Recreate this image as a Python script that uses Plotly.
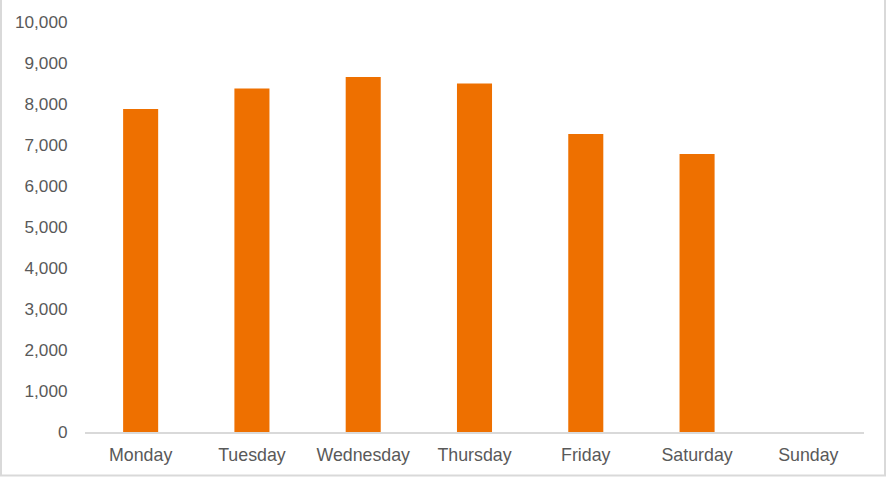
import plotly.graph_objects as go

days = ["Monday", "Tuesday", "Wednesday", "Thursday", "Friday", "Saturday", "Sunday"]
values = [7880, 8380, 8660, 8500, 7270, 6780, 0]
y_ticks = [0, 1000, 2000, 3000, 4000, 5000, 6000, 7000, 8000, 9000, 10000]
y_tick_labels = ["0", "1,000", "2,000", "3,000", "4,000", "5,000", "6,000", "7,000", "8,000", "9,000", "10,000"]

W, H = 886, 477
L, R, T, B = 85, 22, 22, 45
pw = W - L - R
ph = H - T - B

fig = go.Figure(go.Bar(
    x=days, y=values,
    marker=dict(color="#EE7000", line=dict(width=0)),
    hoverinfo="skip",
))

fig.update_layout(
    width=W, height=H,
    margin=dict(l=L, r=R, t=T, b=B),
    paper_bgcolor="white", plot_bgcolor="white",
    bargap=0.685,
    showlegend=False,
    font=dict(family="Liberation Sans, Arial, sans-serif", color="#595959", size=17.8),
    xaxis=dict(
        showline=True, linecolor="#D9D9D9", linewidth=1.5,
        showgrid=False, ticks="outside", ticklen=6, tickcolor="rgba(0,0,0,0)",
        tickfont=dict(size=17.8, color="#595959"),
    ),
    yaxis=dict(
        range=[0, 10000], tickvals=y_ticks, ticktext=y_tick_labels,
        showgrid=False, zeroline=False, showline=False,
        ticks="outside", ticklen=13, tickcolor="rgba(0,0,0,0)",
        tickfont=dict(size=17.2, color="#595959"),
    ),
    shapes=[dict(
        type="rect", xref="paper", yref="paper",
        x0=(1 - L) / pw, x1=(885 - L) / pw,
        y0=-(B - 1.5) / ph, y1=1 + (T + 10) / ph,
        line=dict(color="#D9D9D9", width=2), fillcolor="rgba(0,0,0,0)", layer="above",
    )],
)

fig.write_html(
    "out.html",
    config={"displayModeBar": False},
    post_script="document.body.style.margin='0';document.body.style.overflow='hidden';",
)
